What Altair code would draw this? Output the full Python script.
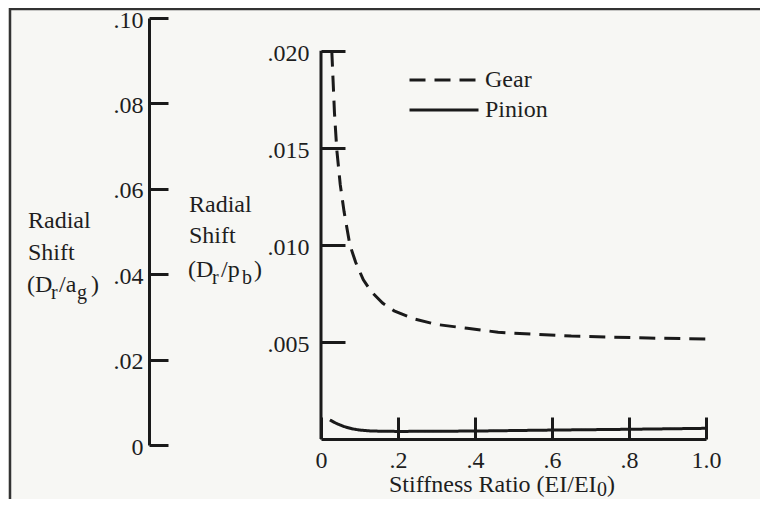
import altair as alt
import pandas as pd

# ---------------- data ----------------
gear_x = [0.028, 0.035, 0.041, 0.05, 0.06, 0.075, 0.09, 0.11, 0.13, 0.16, 0.19,
          0.24, 0.30, 0.38, 0.46, 0.55, 0.65, 0.75, 0.85, 1.0]
gear_y = [0.0200, 0.0168, 0.0149, 0.0131, 0.0117, 0.0100, 0.0091, 0.0082, 0.0076,
          0.0070, 0.0066, 0.0062, 0.0059, 0.0057, 0.0055, 0.0054, 0.0053, 0.00525,
          0.0052, 0.00515]
pinion_x = [0.023, 0.04, 0.06, 0.08, 0.10, 0.13, 0.2, 0.4, 0.6, 0.8, 1.0]
pinion_y = [0.00098, 0.00080, 0.00064, 0.00053, 0.00046, 0.00041, 0.00039,
            0.00041, 0.00046, 0.00050, 0.00055]
series_names = ["Gear", "Pinion"]

x_ticks = [0, 0.2, 0.4, 0.6, 0.8, 1.0]
inner_y_ticks = [0.005, 0.010, 0.015, 0.020]
outer_y_ticks = [0, 0.02, 0.04, 0.06, 0.08, 0.10]
inner_axis_extent = [0, 0.020]

# ---------------- style / layout ----------------
FONT = "Liberation Serif"
INK = "#1a1a1a"
TXT = "#1e1e1e"
BG = "#f7f7f4"
FS = 24
SUB = 20

W, H = 385, 427
PAD_L, PAD_T = 313, 10
PAD_R = 752 - PAD_L - W
PAD_B = 491 - PAD_T - H
OX, OY = PAD_L + 8, PAD_T + 8  # absolute page position of plot origin

# inner y scale: 0 at y=421 (px from plot top), 0.020 at ~32.7
px_per_unit = 388.3 / 0.02
inner_dom = [-(H - 421) / px_per_unit, 421 / px_per_unit]

df = pd.DataFrame({
    "x": gear_x + pinion_x,
    "y": gear_y + pinion_y,
    "series": [series_names[0]] * len(gear_x) + [series_names[1]] * len(pinion_x),
})

x_scale = alt.Scale(domain=[0, 1], nice=False, zero=False)
y_scale = alt.Scale(domain=inner_dom, nice=False, zero=False)

x_axis = alt.Axis(
    orient="top", offset=-421, values=x_ticks,
    labelExpr="datum.value == 0 ? '0' : datum.value == 1 ? '1.0' : replace(format(datum.value, '.1f'), '0.', '.')",
    tickSize=22, tickWidth=3, tickColor=INK, domainWidth=3, domainColor=INK,
    labelFont=FONT, labelFontSize=FS, labelColor=TXT, labelPadding=-31,
    labelBaseline="top", labelAlign="center", labelFlush=False, labelOverlap=False,
    grid=False, title=None,
)
y_axis = alt.Axis(
    orient="right", offset=-W, values=inner_y_ticks, domain=False,
    labelExpr="replace(format(datum.value, '.3f'), '0.', '.')",
    tickSize=24, tickWidth=3, tickColor=INK,
    labelFont=FONT, labelFontSize=FS, labelColor=TXT, labelPadding=-36,
    labelAlign="right", labelBaseline="middle", labelOverlap=False, labelOffset=3,
    grid=False, title=None,
)
outer_axis = alt.Axis(
    orient="right", offset=149 - OX - W, values=outer_y_ticks,
    labelExpr="datum.value == 0 ? '0' : replace(format(datum.value, '.2f'), '0.', '.')",
    tickSize=19, tickWidth=3, tickColor=INK, domainWidth=3, domainColor=INK,
    labelFont=FONT, labelFontSize=FS, labelColor=TXT, labelPadding=-25,
    labelAlign="right", labelBaseline="middle", labelOverlap=False, labelOffset=2,
    grid=False, title=None,
)

lines = alt.Chart(df).mark_line(strokeWidth=3, color=INK).encode(
    x=alt.X("x:Q", scale=x_scale, axis=x_axis),
    y=alt.Y("y:Q", scale=y_scale, axis=y_axis),
    strokeDash=alt.StrokeDash(
        "series:N",
        scale=alt.Scale(domain=series_names, range=[[16, 9], [1, 0]]),
        legend=alt.Legend(
            orient="none", legendX=110, legendY=49, title=None, padding=0,
            symbolType="M-3,0H3", symbolSize=529, symbolStrokeWidth=3,
            symbolStrokeColor=INK, symbolFillColor="transparent",
            labelFont=FONT, labelFontSize=FS, labelColor=TXT, labelOffset=28,
            rowPadding=5,
        ),
    ),
    detail="series:N",
)

axis_line = alt.Chart(pd.DataFrame({"x": [0], "y0": [inner_axis_extent[0]], "y1": [inner_axis_extent[1]]})).mark_rule(
    strokeWidth=3, color=INK
).encode(
    x=alt.X("x:Q", scale=x_scale),
    y=alt.Y("y0:Q", scale=y_scale, axis=None),
    y2="y1:Q",
)

outer = alt.Chart(pd.DataFrame({"v": outer_y_ticks})).mark_point(opacity=0).encode(
    y=alt.Y("v:Q", scale=alt.Scale(domain=[0, 0.1], nice=False, zero=False), axis=outer_axis),
)


def txt(s, ax, ay, size=FS, align="left"):
    return alt.Chart(pd.DataFrame({"t": [s]})).mark_text(
        font=FONT, fontSize=size, align=align, baseline="alphabetic", color=TXT
    ).encode(x=alt.value(ax - OX), y=alt.value(ay - OY), text="t:N")


texts = [
    # outer axis label
    txt("Radial", 28, 228), txt("Shift", 28, 260),
    txt("(D", 27, 292), txt("r", 51, 299, SUB), txt("/a", 59, 292),
    txt("g", 77, 299, SUB), txt(")", 91, 292),
    # inner axis label
    txt("Radial", 189, 212), txt("Shift", 189, 243),
    txt("(D", 188, 277), txt("r", 212, 284, SUB), txt("/p", 221, 277),
    txt("b", 242, 284, SUB), txt(")", 254, 277),
    # x title
    txt("Stiffness Ratio (EI/EI", 389, 492), txt("0", 597, 496, SUB), txt(")", 607, 492),
]

frame_top = alt.Chart(pd.DataFrame({"a": [0]})).mark_rule(strokeWidth=2.5, color="#333").encode(
    x=alt.value(10 - OX), x2=alt.value(768 - OX), y=alt.value(9 - OY)
)
frame_left = alt.Chart(pd.DataFrame({"a": [0]})).mark_rule(strokeWidth=2.5, color="#333").encode(
    x=alt.value(10 - OX), y=alt.value(8 - OY), y2=alt.value(500 - OY)
)

chart = alt.layer(
    frame_top, frame_left, lines, axis_line, outer, *texts
).resolve_scale(y="independent").properties(
    width=W, height=H,
    autosize=alt.AutoSizeParams(type="none"),
    padding={"left": PAD_L, "top": PAD_T, "right": PAD_R, "bottom": PAD_B},
    background=BG,
).configure_view(strokeWidth=0)

chart.save("out.html", embed_options={"renderer": "svg", "actions": False})
